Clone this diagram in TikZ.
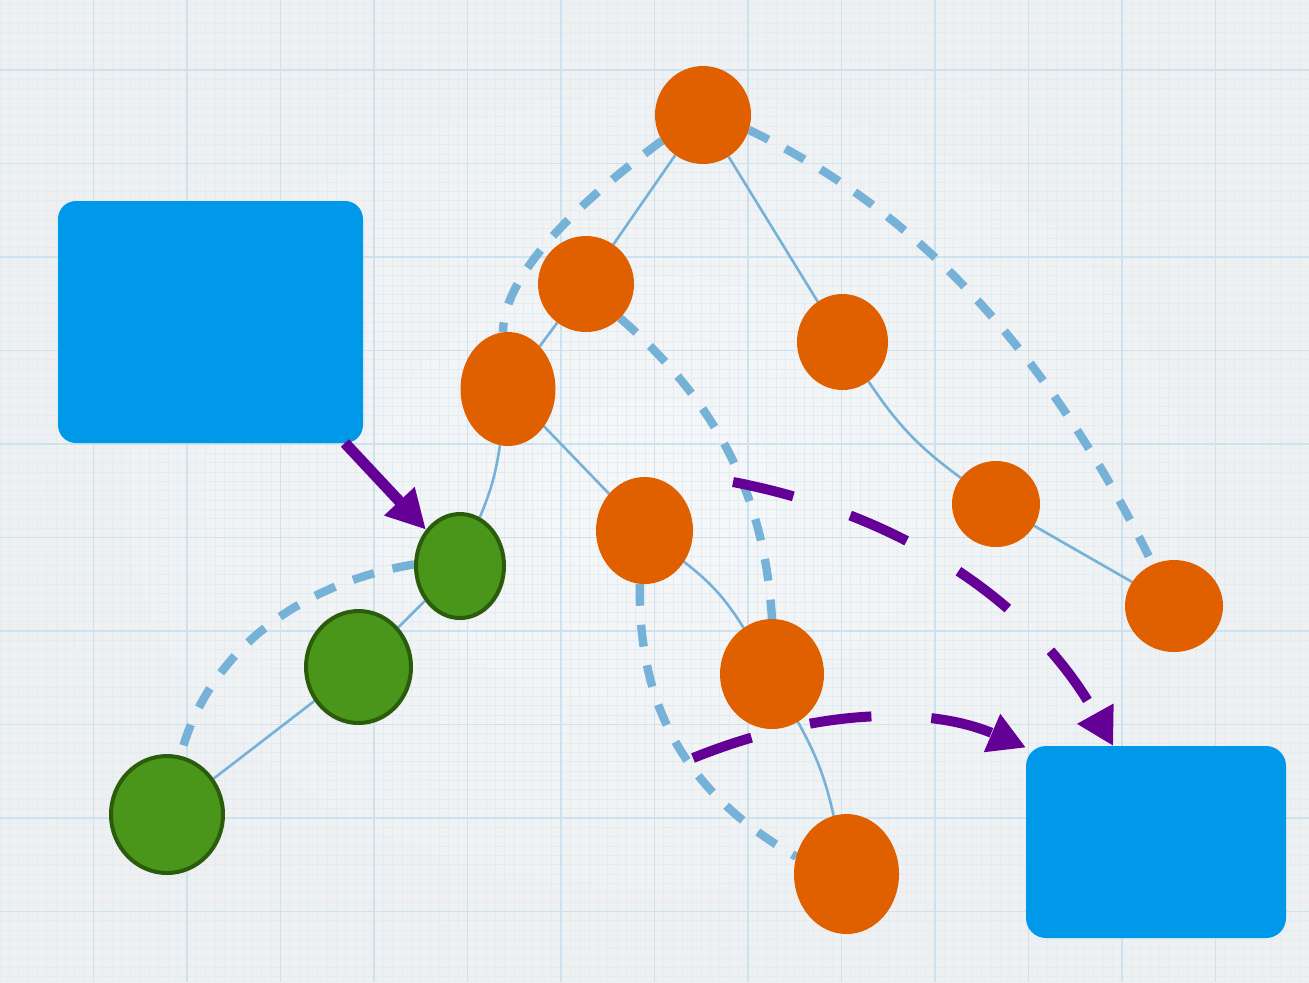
\documentclass[tikz,border=0pt]{standalone}
\usetikzlibrary{shapes.geometric,arrows.meta}
\definecolor{orangeN}{HTML}{E06000}
\definecolor{boxblue}{HTML}{0098E8}
\definecolor{lineblue}{HTML}{76B2D8}
\definecolor{purp}{HTML}{650096}
\definecolor{greenF}{HTML}{4A961A}
\definecolor{greenB}{HTML}{2B5C0B}
\definecolor{gridmin}{HTML}{E2EDF3}
\definecolor{gridmaj}{HTML}{CDE2EF}
\definecolor{paperin}{HTML}{F6F7F8}
\definecolor{paperout}{HTML}{EDEFF1}
\pgfdeclarelayer{paper}
\pgfdeclarelayer{edges}
\pgfsetlayers{paper,edges,main}
\begin{document}
\begin{tikzpicture}[x=0.5pt,y=-0.5pt,
  orangenode/.style={ellipse,fill=orangeN,inner sep=0pt,outer sep=0pt},
  greennode/.style={ellipse,fill=greenF,draw=greenB,line width=2pt,inner sep=0pt},
  bluebox/.style={rectangle,rounded corners=9pt,fill=boxblue,inner sep=0pt,outer sep=0pt},
  treeedge/.style={draw=lineblue,line width=1.3pt},
  linkdash/.style={draw=lineblue,line width=4.2pt,dash pattern=on 11pt off 9.5pt},
  flowdash/.style={draw=purp,line width=5pt,dash pattern=on 31pt off 30pt,-{Triangle[length=18.5pt,width=19.5pt]}},
  flowsolid/.style={draw=purp,line width=5.5pt,-{Triangle[length=19.5pt,width=19.5pt]}},
  minorgrid/.style={draw=gridmin,line width=0.5pt},
  majorgrid/.style={draw=gridmaj,line width=0.9pt}]
\useasboundingbox (0,0) rectangle (1309,982);

% paper
\begin{pgfonlayer}{paper}
  \shade[inner color=paperin,outer color=paperout] (0,0) rectangle (1309,982);
  \begin{scope}
    \clip (0,0) rectangle (1309,982);
    \foreach \i in {0,...,140} {\draw[minorgrid] ({\i*9.35},0) -- ({\i*9.35},982);}
    \foreach \i in {0,...,108} {\draw[minorgrid] (0,{-23.5+\i*9.35}) -- (1309,{-23.5+\i*9.35});}
    \foreach \i in {1,...,13} {\draw[majorgrid] ({\i*93.5},0) -- ({\i*93.5},982);}
    \foreach \i in {0,...,9} {\draw[majorgrid] (0,{70+\i*93.5}) -- (1309,{70+\i*93.5});}
  \end{scope}
\end{pgfonlayer}

% boxes
\node[bluebox,minimum width=152.5pt,minimum height=121pt] (R1) at (210.5,322) {};
\node[bluebox,rounded corners=10pt,minimum width=130pt,minimum height=96pt] (R2) at (1156,842) {};

% orange nodes
\node[orangenode,minimum width=48pt,minimum height=49pt] (A) at (703,115) {};
\node[orangenode,minimum width=48pt,minimum height=48pt] (B) at (586,284) {};
\node[orangenode,minimum width=47.5pt,minimum height=57pt] (C) at (508,389) {};
\node[orangenode,minimum width=45.5pt,minimum height=48pt] (D) at (842.5,342) {};
\node[orangenode,minimum width=48.5pt,minimum height=53.5pt] (E) at (644.5,530.5) {};
\node[orangenode,minimum width=44pt,minimum height=43pt] (F) at (996,504) {};
\node[orangenode,minimum width=49pt,minimum height=46pt] (G) at (1174,606) {};
\node[orangenode,minimum width=52pt,minimum height=55pt] (H) at (772,674) {};
\node[orangenode,minimum width=52.5pt,minimum height=60pt] (I) at (846.5,874) {};

% green nodes
\node[greennode,minimum width=44pt,minimum height=52pt] (J) at (460,566) {};
\node[greennode,minimum width=52.5pt,minimum height=56pt] (K) at (358.5,667) {};
\node[greennode,minimum width=56pt,minimum height=58.5pt] (L) at (167,814.5) {};

% edges behind the nodes
\begin{pgfonlayer}{edges}
  \draw[treeedge] (A) -- (B);
  \draw[treeedge] (A) -- (D);
  \draw[treeedge] (B) -- (C);
  \draw[treeedge] (C) -- (E);
  \draw[treeedge] (C) to[bend left=7] (J);
  \draw[treeedge] (E) to[bend left=10] (H);
  \draw[treeedge] (H) to[bend left=8] (I);
  \draw[treeedge] (D) to[bend right=10] (F);
  \draw[treeedge] (F) -- (G);
  \draw[treeedge] (J) -- (K);
  \draw[treeedge] (K) -- (L);

  \draw[linkdash] (A.212) .. controls (556,219) and (503,284) .. (C.95);
  \draw[linkdash] (A.-18) .. controls (905,205) and (1040,335) .. (G.117);
  \draw[linkdash] (B.-45) .. controls (720,405) and (765,500) .. (H.north);
  \draw[linkdash] (E.265) .. controls (638,700) and (680,790) .. (I.161);
  \draw[linkdash] (J.178) .. controls (290,585) and (205,660) .. (L.77);
\end{pgfonlayer}

% purple connectors
\coordinate (p1) at (733,482);
\coordinate (p2) at (693,758);
\draw[flowsolid] (R1.-42) -- (J);
\draw[flowdash] (p1) .. controls (905,515) and (1035,605) .. (R2.114);
\draw[flowdash] (p2) .. controls (817,708) and (929,706) .. (R2.144);
\end{tikzpicture}
\end{document}
